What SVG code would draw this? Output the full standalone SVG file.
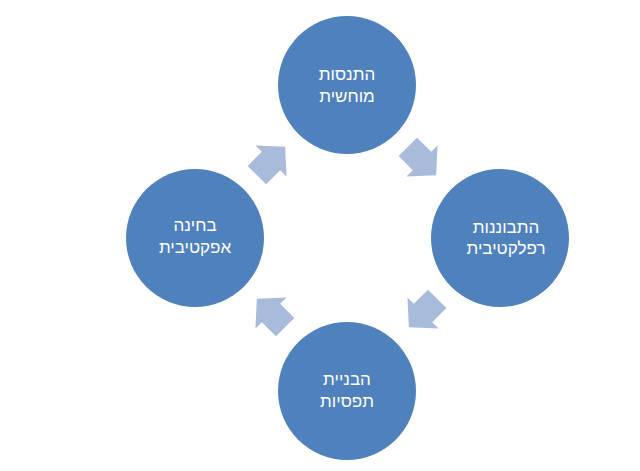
<svg xmlns="http://www.w3.org/2000/svg" width="640" height="471" viewBox="0 0 640 471">
  <defs>
    <style>
      .node { fill: #4F81BD; }
      .lbl { fill: #FFFFFF; font-family: "Liberation Sans", "DejaVu Sans", Arial, sans-serif; font-size: 17px; text-anchor: middle; direction: rtl; }
      .arrow { fill: #A9BBDB; }
    </style>
    <polygon id="arr" points="-20,-13 0,-13 0,-22 20,0 0,22 0,13 -20,13"/>
  </defs>
  <rect width="640" height="471" fill="#FFFFFF"/>
  <g id="connectors">
    <use href="#arr" class="arrow" transform="translate(422,161) rotate(45)"/>
    <use href="#arr" class="arrow" transform="translate(423,313) rotate(135)"/>
    <use href="#arr" class="arrow" transform="translate(271,313) rotate(225)"/>
    <use href="#arr" class="arrow" transform="translate(271,161) rotate(-45)"/>
  </g>
  <g id="node-top">
    <circle class="node" cx="347" cy="85" r="69"/>
    <text class="lbl" x="347" y="80">התנסות</text>
    <text class="lbl" x="347" y="102">מוחשית</text>
  </g>
  <g id="node-right">
    <circle class="node" cx="500" cy="238" r="69"/>
    <text class="lbl" x="506" y="233">התבוננות</text>
    <text class="lbl" x="506" y="254">רפלקטיבית</text>
  </g>
  <g id="node-bottom">
    <circle class="node" cx="347" cy="391" r="69"/>
    <text class="lbl" x="347" y="385">הבניית</text>
    <text class="lbl" x="347" y="407">תפסיות</text>
  </g>
  <g id="node-left">
    <circle class="node" cx="195" cy="238" r="69"/>
    <text class="lbl" x="195" y="231">בחינה</text>
    <text class="lbl" x="195" y="253">אפקטיבית</text>
  </g>
</svg>
